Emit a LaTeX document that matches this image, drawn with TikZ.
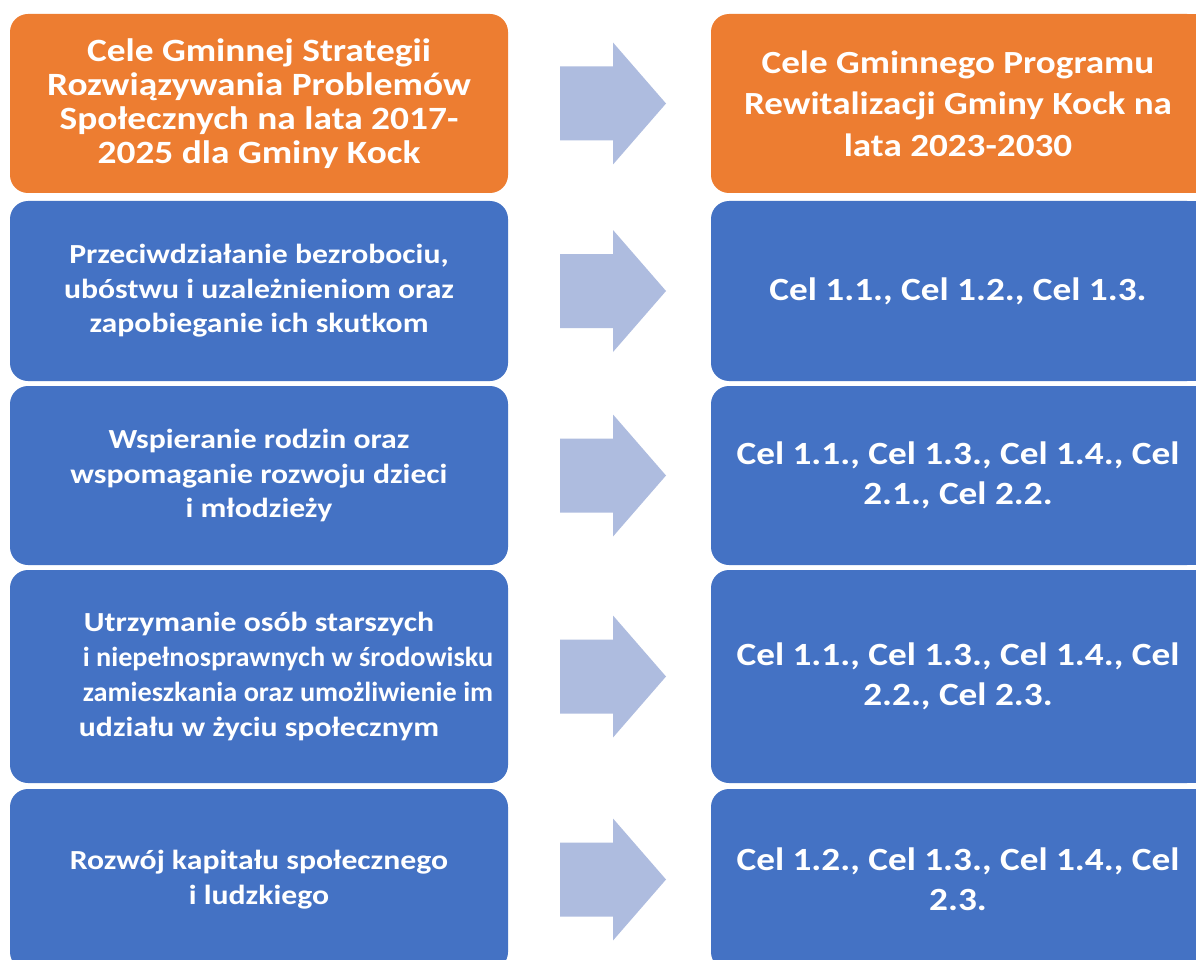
\documentclass[tikz,border=0pt]{standalone}
\usepackage{fontspec}
\usepackage{graphicx}
\setmainfont{Carlito}[FakeStretch=1.15]
\usetikzlibrary{backgrounds}
\definecolor{orgc}{RGB}{237,125,49}
\definecolor{bluc}{RGB}{68,114,196}
\definecolor{arrc}{RGB}{174,188,223}
\newcommand{\narrowline}[1]{\hspace*{58pt}\scalebox{0.891}[1]{#1}}
\begin{document}
\begin{tikzpicture}[x=1pt,y=-1pt,
  box/.style={rounded corners=18pt, inner sep=0pt, text=white, align=center, font=\bfseries},
  lbox/.style={box, minimum width=498pt},
  rbox/.style={box, minimum width=494pt},
  ltitle/.style={font=\bfseries\fontsize{32.5}{34}\selectfont},
  rtitle/.style={font=\bfseries\fontsize{32.3}{41.5}\selectfont},
  ltext/.style={font=\bfseries\fontsize{27.6}{34.5}\selectfont},
  ltextwide/.style={font=\bfseries\fontsize{27.6}{35}\selectfont},
  rtext/.style={font=\bfseries\fontsize{32.4}{40}\selectfont},
  blockarrow/.style={fill=arrc}
]
\useasboundingbox (0,0) rectangle (1196,960);
\clip (0,0) rectangle (1196,960);

% left column
\node[lbox, fill=orgc, minimum height=179pt, ltitle] (L0) at (259,103.5)
  {Cele Gminnej Strategii\\Rozwiązywania Problemów\\Społecznych na lata 2017-\\2025 dla Gminy Kock};
\node[lbox, fill=bluc, minimum height=180pt, ltext] (L1) at (259,291)
  {Przeciwdziałanie bezrobociu,\\ubóstwu i uzależnieniom oraz\\zapobieganie ich skutkom};
\node[lbox, fill=bluc, minimum height=179pt, ltext] (L2) at (259,475.5)
  {Wspieranie rodzin oraz\\wspomaganie rozwoju dzieci\\i młodzieży};
\node[lbox, fill=bluc, minimum height=213pt, ltextwide] (L3) at (259,676.5)
  {Utrzymanie osób starszych\\\narrowline{i niepełnosprawnych w środowisku}\\\narrowline{zamieszkania oraz umożliwienie im}\\udziału w życiu społecznym};
\node[lbox, fill=bluc, minimum height=181pt, ltext] (L4) at (259,879.5)
  {Rozwój kapitału społecznego\\i ludzkiego};

% right column
\node[rbox, fill=orgc, minimum height=179pt, rtitle] (R0) at (958,103.5)
  {Cele Gminnego Programu\\Rewitalizacji Gminy Kock na\\lata 2023-2030};
\node[rbox, fill=bluc, minimum height=180pt, rtext] (R1) at (958,291)
  {Cel 1.1., Cel 1.2., Cel 1.3.};
\node[rbox, fill=bluc, minimum height=179pt, rtext] (R2) at (958,475.5)
  {Cel 1.1., Cel 1.3., Cel 1.4., Cel\\2.1., Cel 2.2.};
\node[rbox, fill=bluc, minimum height=213pt, rtext] (R3) at (958,676.5)
  {Cel 1.1., Cel 1.3., Cel 1.4., Cel\\2.2., Cel 2.3.};
\node[rbox, fill=bluc, minimum height=181pt, rtext] (R4) at (958,879.5)
  {Cel 1.2., Cel 1.3., Cel 1.4., Cel\\2.3.};

% right boxes continue past the right edge
\begin{scope}[on background layer]
  \fill[white] (0,0) rectangle (1196,960);
  \fill[orgc] ([xshift=-30pt]R0.north east) rectangle ([xshift=30pt]R0.south east);
  \foreach \r in {R1,R2,R3,R4}{
    \fill[bluc] ([xshift=-30pt]\r.north east) rectangle ([xshift=30pt]\r.south east);
  }
\end{scope}

% block arrows
\foreach \c in {103.5,291,475.5,676.5,879.5}{
  \fill[blockarrow] (560,\c-37) -- (613,\c-37) -- (613,\c-61) -- (666,\c)
    -- (613,\c+61) -- (613,\c+37) -- (560,\c+37) -- cycle;
}
\end{tikzpicture}
\end{document}
